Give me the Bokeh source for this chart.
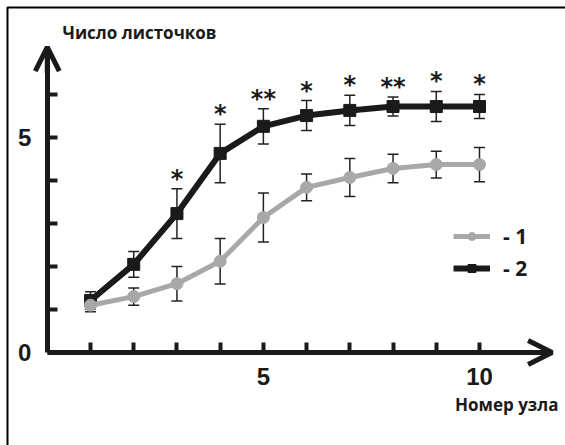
from bokeh.plotting import figure
from bokeh.models import (Range1d, FixedTicker, ColumnDataSource, Whisker, TeeHead,
                          Arrow, OpenHead, Label, BoxAnnotation, Legend, LegendItem)
from bokeh.core.properties import value
from bokeh.embed import file_html
from bokeh.resources import INLINE

# ---- data ----
nodes = [1, 2, 3, 4, 5, 6, 7, 8, 9, 10]
mean_1 = [1.10, 1.30, 1.60, 2.12, 3.14, 3.84, 4.07, 4.28, 4.37, 4.37]
err_1 = [0.15, 0.20, 0.40, 0.53, 0.57, 0.31, 0.44, 0.33, 0.31, 0.40]
mean_2 = [1.21, 2.05, 3.23, 4.63, 5.26, 5.51, 5.63, 5.72, 5.72, 5.72]
err_2 = [0.20, 0.30, 0.58, 0.68, 0.41, 0.35, 0.35, 0.22, 0.35, 0.28]
stars = ["", "", "*", "*", "**", "*", "*", "**", "*", "*"]
x_ticks = [1, 2, 3, 4, 5, 6, 7, 8, 9, 10]
x_tick_labels = {5: "5", 10: "10"}
y_ticks = [0, 1, 2, 3, 4, 5, 6]
y_tick_labels = {0: "0", 5: "5"}
y_title = "Число листочков"
x_title = "Номер узла"
series_labels = ["- 1", "- 2"]

GRAY = "#a8a8a8"
BLACK = "#1a1a1a"
W, H = 565, 445
X0, Y0 = -1.0824, -2.163
X1, Y1 = 11.990, 8.186
PX_X = W / (X1 - X0)
PX_Y = H / (Y1 - Y0)

p = figure(width=W, height=H, output_backend="svg", toolbar_location=None,
           x_range=Range1d(X0, X1), y_range=Range1d(Y0, Y1),
           min_border=0, outline_line_color=None)
p.grid.visible = False

# page frame: only the left and top edges fall inside the canvas
p.add_layout(BoxAnnotation(left=X0 + 7 / PX_X, top=Y1 - 7 / PX_Y,
                           right=X1 + 20 / PX_X, bottom=Y0 - 20 / PX_Y,
                           fill_alpha=0, line_color="black", line_alpha=1.0,
                           line_width=2, level="underlay"))

# axes at fixed location (drawn through origin)
for ax in (p.xaxis[0], p.yaxis[0]):
    ax.fixed_location = 0
    ax.axis_line_width = 5
    ax.axis_line_color = BLACK
    ax.major_tick_line_width = 4
    ax.major_tick_line_color = BLACK
    ax.major_tick_in = 10
    ax.major_tick_out = 0
    ax.minor_tick_line_color = None
    ax.major_label_text_font = "Liberation Sans"
    ax.major_label_text_font_style = "bold"
    ax.major_label_text_font_size = "24px"
    ax.major_label_text_color = BLACK
p.xaxis.ticker = FixedTicker(ticks=x_ticks)
p.xaxis.major_label_overrides = {t: x_tick_labels.get(t, "") for t in x_ticks}
p.xaxis.bounds = (0, 11.55)
p.xaxis.major_label_standoff = 16
p.yaxis.ticker = FixedTicker(ticks=y_ticks)
p.yaxis.major_label_overrides = {t: y_tick_labels.get(t, "") for t in y_ticks}
p.yaxis.bounds = (0, 7.0)
p.yaxis.major_label_standoff = 16

# arrow heads
p.add_layout(Arrow(x_start=11.0, y_start=0, x_end=11.68, y_end=0, line_width=5, line_color=BLACK,
                   end=OpenHead(size=24, line_width=5, line_color=BLACK)))
p.add_layout(Arrow(x_start=0, y_start=6.5, x_end=0, y_end=7.1, line_width=5, line_color=BLACK,
                   end=OpenHead(size=24, line_width=5, line_color=BLACK)))

src1 = ColumnDataSource(dict(x=nodes, y=mean_1,
                             lo=[m - e for m, e in zip(mean_1, err_1)],
                             hi=[m + e for m, e in zip(mean_1, err_1)]))
src2 = ColumnDataSource(dict(x=nodes, y=mean_2,
                             lo=[m - e for m, e in zip(mean_2, err_2)],
                             hi=[m + e for m, e in zip(mean_2, err_2)],
                             s=stars))

for src in (src2, src1):
    p.add_layout(Whisker(source=src, base="x", upper="hi", lower="lo",
                         line_color="#222222", line_width=1.5,
                         upper_head=TeeHead(size=11, line_width=1.5, line_color="#222222"),
                         lower_head=TeeHead(size=11, line_width=1.5, line_color="#222222")))

l2 = p.line("x", "y", source=src2, line_color=BLACK, line_width=6)
s2 = p.scatter("x", "y", source=src2, marker="square", size=12, fill_color=BLACK, line_color=BLACK)
l1 = p.line("x", "y", source=src1, line_color=GRAY, line_width=5)
s1 = p.scatter("x", "y", source=src1, marker="circle", size=12, fill_color=GRAY, line_color=GRAY)

p.text("x", "hi", text="s", source=src2, text_align="center", text_baseline="middle",
       y_offset=-10, text_font=value("DejaVu Sans"), text_font_style="bold",
       text_font_size="24px", text_color=BLACK)

p.add_layout(Label(x=(62 - 46.78) / PX_X, y=(352 - 32) / PX_Y, text=y_title,
                   text_font="Open Sans", text_font_style="bold",
                   text_font_size="17px", text_baseline="middle", text_color=BLACK))
p.add_layout(Label(x=(558 - 46.78) / PX_X, y=(352 - 404) / PX_Y, text=x_title,
                   text_font="Open Sans", text_font_style="bold",
                   text_font_size="17px", text_baseline="middle", text_align="right", text_color=BLACK))

legend = Legend(items=[LegendItem(label=series_labels[0], renderers=[l1, s1]),
                       LegendItem(label=series_labels[1], renderers=[l2, s2])],
                location=(453, 445 - 282), padding=0, margin=0, spacing=4,
                glyph_width=37, glyph_height=20, label_height=20, label_standoff=13,
                label_text_font="Open Sans", label_text_font_style="bold",
                label_text_font_size="21px", label_text_color=BLACK,
                border_line_alpha=0, background_fill_alpha=0)
p.add_layout(legend)

open("out.html", "w").write(file_html(p, INLINE))
